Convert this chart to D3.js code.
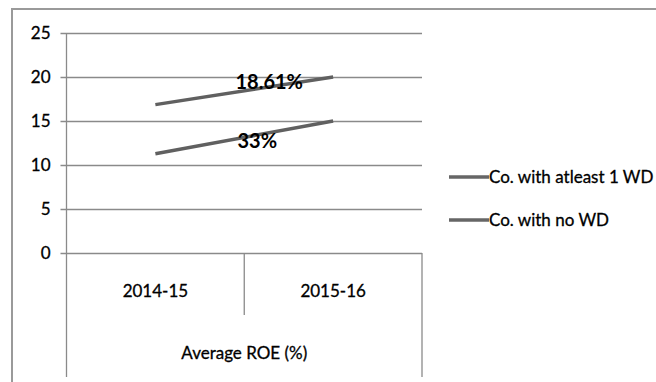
<!DOCTYPE html>
<html>
<head>
<meta charset="utf-8">
<script src="https://cdn.jsdelivr.net/npm/d3@7"></script>
<style>
  html, body { margin: 0; padding: 0; background: #fff; }
  svg { display: block; font-family: Lato, "Liberation Sans", sans-serif; }
  .txt { fill: #000; stroke: #000; stroke-width: 0.3px; }
</style>
</head>
<body>
<svg id="chart" width="656" height="382"></svg>
<script>
// Average ROE (%) by year
const categories = ["2014-15", "2015-16"];
const seriesNames = ["Co. with atleast 1 WD", "Co. with no WD"];
const withWD = [16.86, 20.0];
const noWD = [11.28, 15.0];
const growthLabels = ["18.61%", "33%"];
const yTicks = [0, 5, 10, 15, 20, 25];
const axisTitle = "Average ROE (%)";

const series = [
  { name: seriesNames[0], values: withWD, label: growthLabels[0] },
  { name: seriesNames[1], values: noWD, label: growthLabels[1] }
];

const svg = d3.select("#chart");
const plot = { left: 66.5, right: 422, top: 33, bottom: 253 };
const gridColor = "#8a8a8a";
const lineColor = "#606060";

// outer frame (extends past the right and bottom edges)
svg.append("path")
  .attr("d", "M12,382V9H660")
  .attr("fill", "none")
  .attr("stroke", "#9a9a9a")
  .attr("stroke-width", 2);

const x = d3.scaleBand().domain(categories).range([plot.left, plot.right]).padding(0);
const y = d3.scaleLinear().domain([0, 25]).range([plot.bottom, plot.top]);
const cx = c => x(c) + x.bandwidth() / 2;

// horizontal gridlines + y tick labels
const yAxis = svg.append("g")
  .attr("transform", `translate(${plot.left},0)`)
  .call(d3.axisLeft(y).tickValues(yTicks).tickSize(-(plot.right - plot.left)).tickPadding(16).tickFormat(d3.format("d")));
yAxis.select(".domain").remove();
yAxis.selectAll(".tick line")
  .attr("x1", -6)
  .attr("stroke", gridColor)
  .attr("stroke-width", 1.3);
yAxis.selectAll(".tick text")
  .attr("class", "txt")
  .attr("font-size", 17)
  .attr("font-family", "Lato, sans-serif");

// vertical axis line, running down past the category area
svg.append("line")
  .attr("x1", plot.left).attr("x2", plot.left)
  .attr("y1", plot.top).attr("y2", 377)
  .attr("stroke", gridColor).attr("stroke-width", 1.3);
// right edge of the category box
svg.append("line")
  .attr("x1", plot.right).attr("x2", plot.right)
  .attr("y1", plot.bottom).attr("y2", 377)
  .attr("stroke", gridColor).attr("stroke-width", 1.3);

// category dividers
svg.selectAll(".divider")
  .data(categories.slice(0, -1))
  .enter().append("line")
  .attr("class", "divider")
  .attr("x1", d => x(d) + x.bandwidth()).attr("x2", d => x(d) + x.bandwidth())
  .attr("y1", plot.bottom).attr("y2", 315)
  .attr("stroke", gridColor).attr("stroke-width", 1.3);

// category labels
svg.selectAll(".cat")
  .data(categories)
  .enter().append("text")
  .attr("class", "cat txt")
  .attr("x", d => cx(d))
  .attr("y", 297)
  .attr("text-anchor", "middle")
  .attr("font-size", 17)
  .text(d => d);

// axis title
svg.append("text")
  .attr("class", "txt")
  .attr("x", (plot.left + plot.right) / 2)
  .attr("y", 359)
  .attr("text-anchor", "middle")
  .attr("font-size", 17)
  .text(axisTitle);

// series lines
const line = d3.line().x((d, i) => cx(categories[i])).y(d => y(d));
svg.selectAll(".series")
  .data(series)
  .enter().append("path")
  .attr("class", "series")
  .attr("d", d => line(d.values))
  .attr("fill", "none")
  .attr("stroke", lineColor)
  .attr("stroke-width", 3.4)
  .attr("stroke-linecap", "butt");

// growth labels near each line's midpoint
const labelOffsets = [{ dx: 25, dy: -2 }, { dx: 13, dy: 11 }];
svg.selectAll(".growth")
  .data(series)
  .enter().append("text")
  .attr("class", "growth")
  .attr("x", (d, i) => (cx(categories[0]) + cx(categories[1])) / 2 + labelOffsets[i].dx)
  .attr("y", (d, i) => y((d.values[0] + d.values[1]) / 2) + labelOffsets[i].dy)
  .attr("text-anchor", "middle")
  .attr("font-size", 20)
  .attr("font-weight", "bold")
  .attr("fill", "#000")
  .text(d => d.label);

// legend
const legend = svg.selectAll(".legend")
  .data(series)
  .enter().append("g")
  .attr("class", "legend")
  .attr("transform", (d, i) => `translate(449,${177 + i * 43})`);
legend.append("line")
  .attr("x1", 0).attr("x2", 40)
  .attr("stroke", "#666").attr("stroke-width", 3.4);
legend.append("text")
  .attr("class", "txt")
  .attr("x", 40).attr("y", 6)
  .attr("font-size", 17)
  .text(d => d.name);
</script>
</body>
</html>
